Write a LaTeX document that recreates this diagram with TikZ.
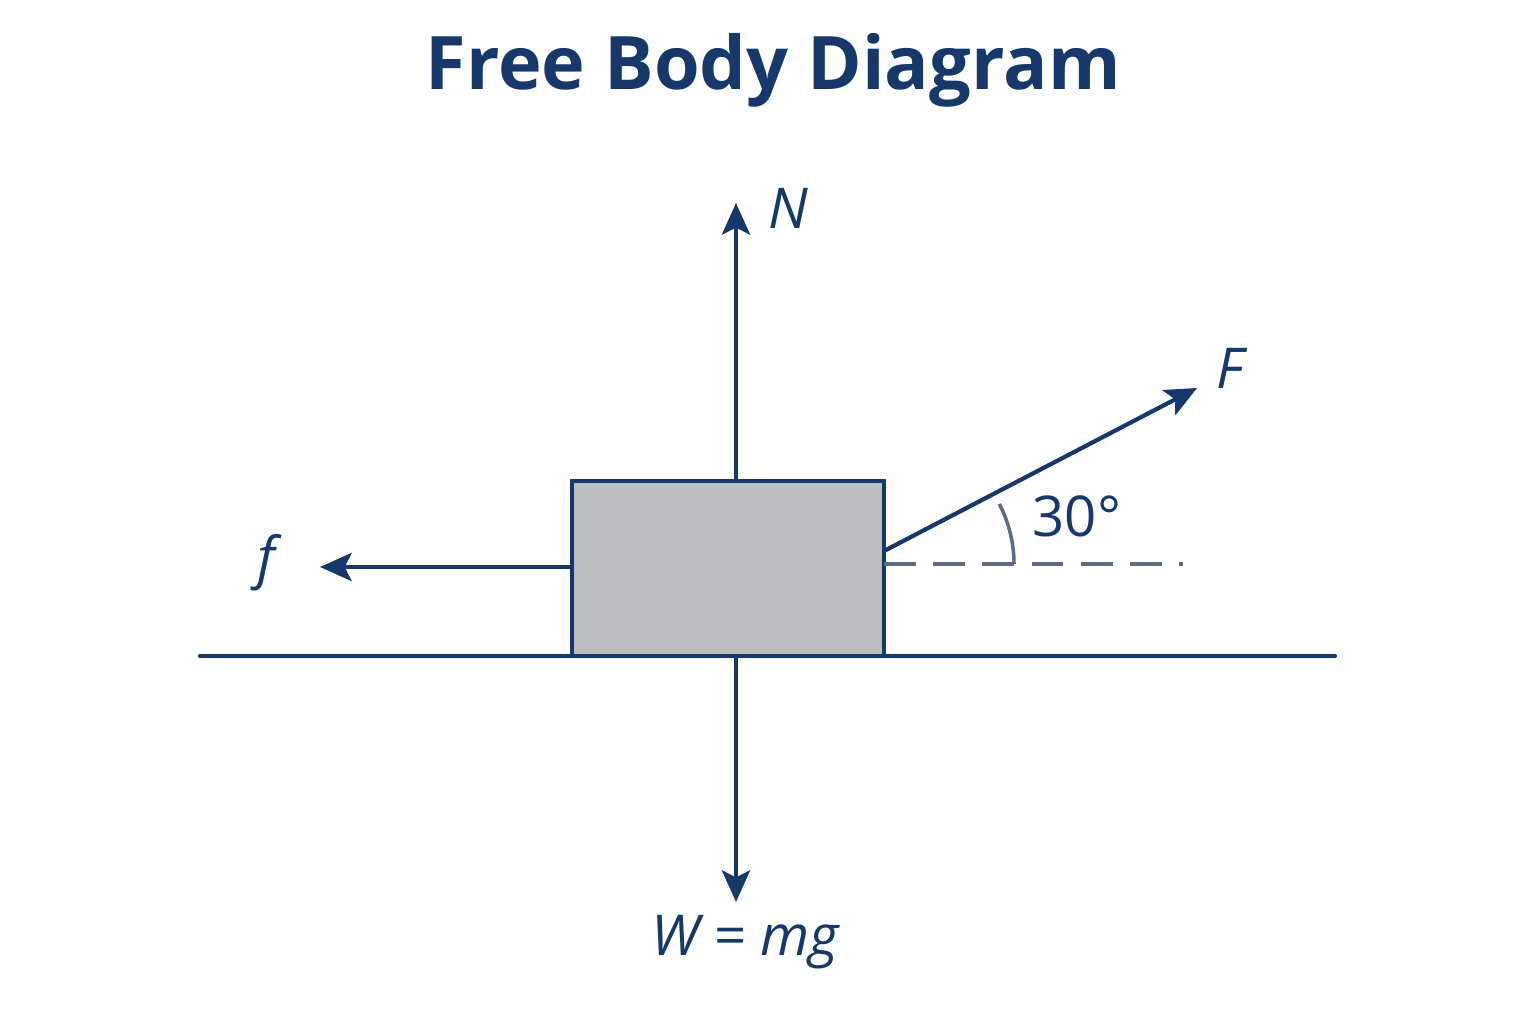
\documentclass[tikz,border=0pt]{standalone}
\usepackage{fontspec}
\setmainfont{Open Sans}
\usetikzlibrary{arrows.meta}
\usetikzlibrary{positioning}
\definecolor{navy}{HTML}{17386B}
\definecolor{slate}{HTML}{5E6B80}
\definecolor{boxgray}{HTML}{BCBDC1}
\begin{document}
\begin{tikzpicture}[x=0.01cm, y=-0.01cm,
    force/.style={navy, line width=1.2pt, -{Stealth[length=9pt, width=8pt, inset=2pt]}},
    lbl/.style={navy, font=\fontsize{16}{18}\selectfont\itshape},
  ]
  \useasboundingbox[fill=white] (0,0) rectangle (1536,1024);
  \node[navy, font=\fontsize{21}{24}\selectfont\bfseries] (title) at (773,70) {Free Body Diagram};
  % ground and block
  \draw[navy, line width=1.2pt, line cap=round] (200,656) -- (1335,656);
  \node[draw=navy, fill=boxgray, line width=1.2pt, minimum width=3.12cm, minimum height=1.75cm] (block) at (728,568.5) {};
  % forces
  \coordinate (ntip) at (736,203);
  \coordinate (wtip) at (736,902);
  \coordinate (ftip) at (320,567);
  \coordinate (Fbase) at (884,551);
  \coordinate (Ftip) at (1197,388);
  \coordinate (dashend) at (1183,564);
  \draw[force] (block.north -| ntip) -- (ntip);
  \draw[force] (block.south -| wtip) -- (wtip);
  \draw[force] (block.west |- ftip) -- (ftip);
  \draw[force] (Fbase) -- (Ftip);
  \draw[slate, line width=1pt, dashed, dash pattern=on 9pt off 5pt] (884,564) -- (dashend);
  \draw[slate, line width=1pt] (884,564) ++(130,0) arc[start angle=0, end angle=-27.5, radius=130];
  % labels
  \node[lbl] (nlab) at (788,208) {N};
  \node[lbl] (wlab) at (745,942) {W = mg};
  \node[lbl] (flab) at (266,563) {f};
  \node[lbl] (Flab) at (1230,368) {F};
  \node[navy, font=\fontsize{16}{18}\selectfont] (angle) at (1077,516) {30°};
\end{tikzpicture}
\end{document}
